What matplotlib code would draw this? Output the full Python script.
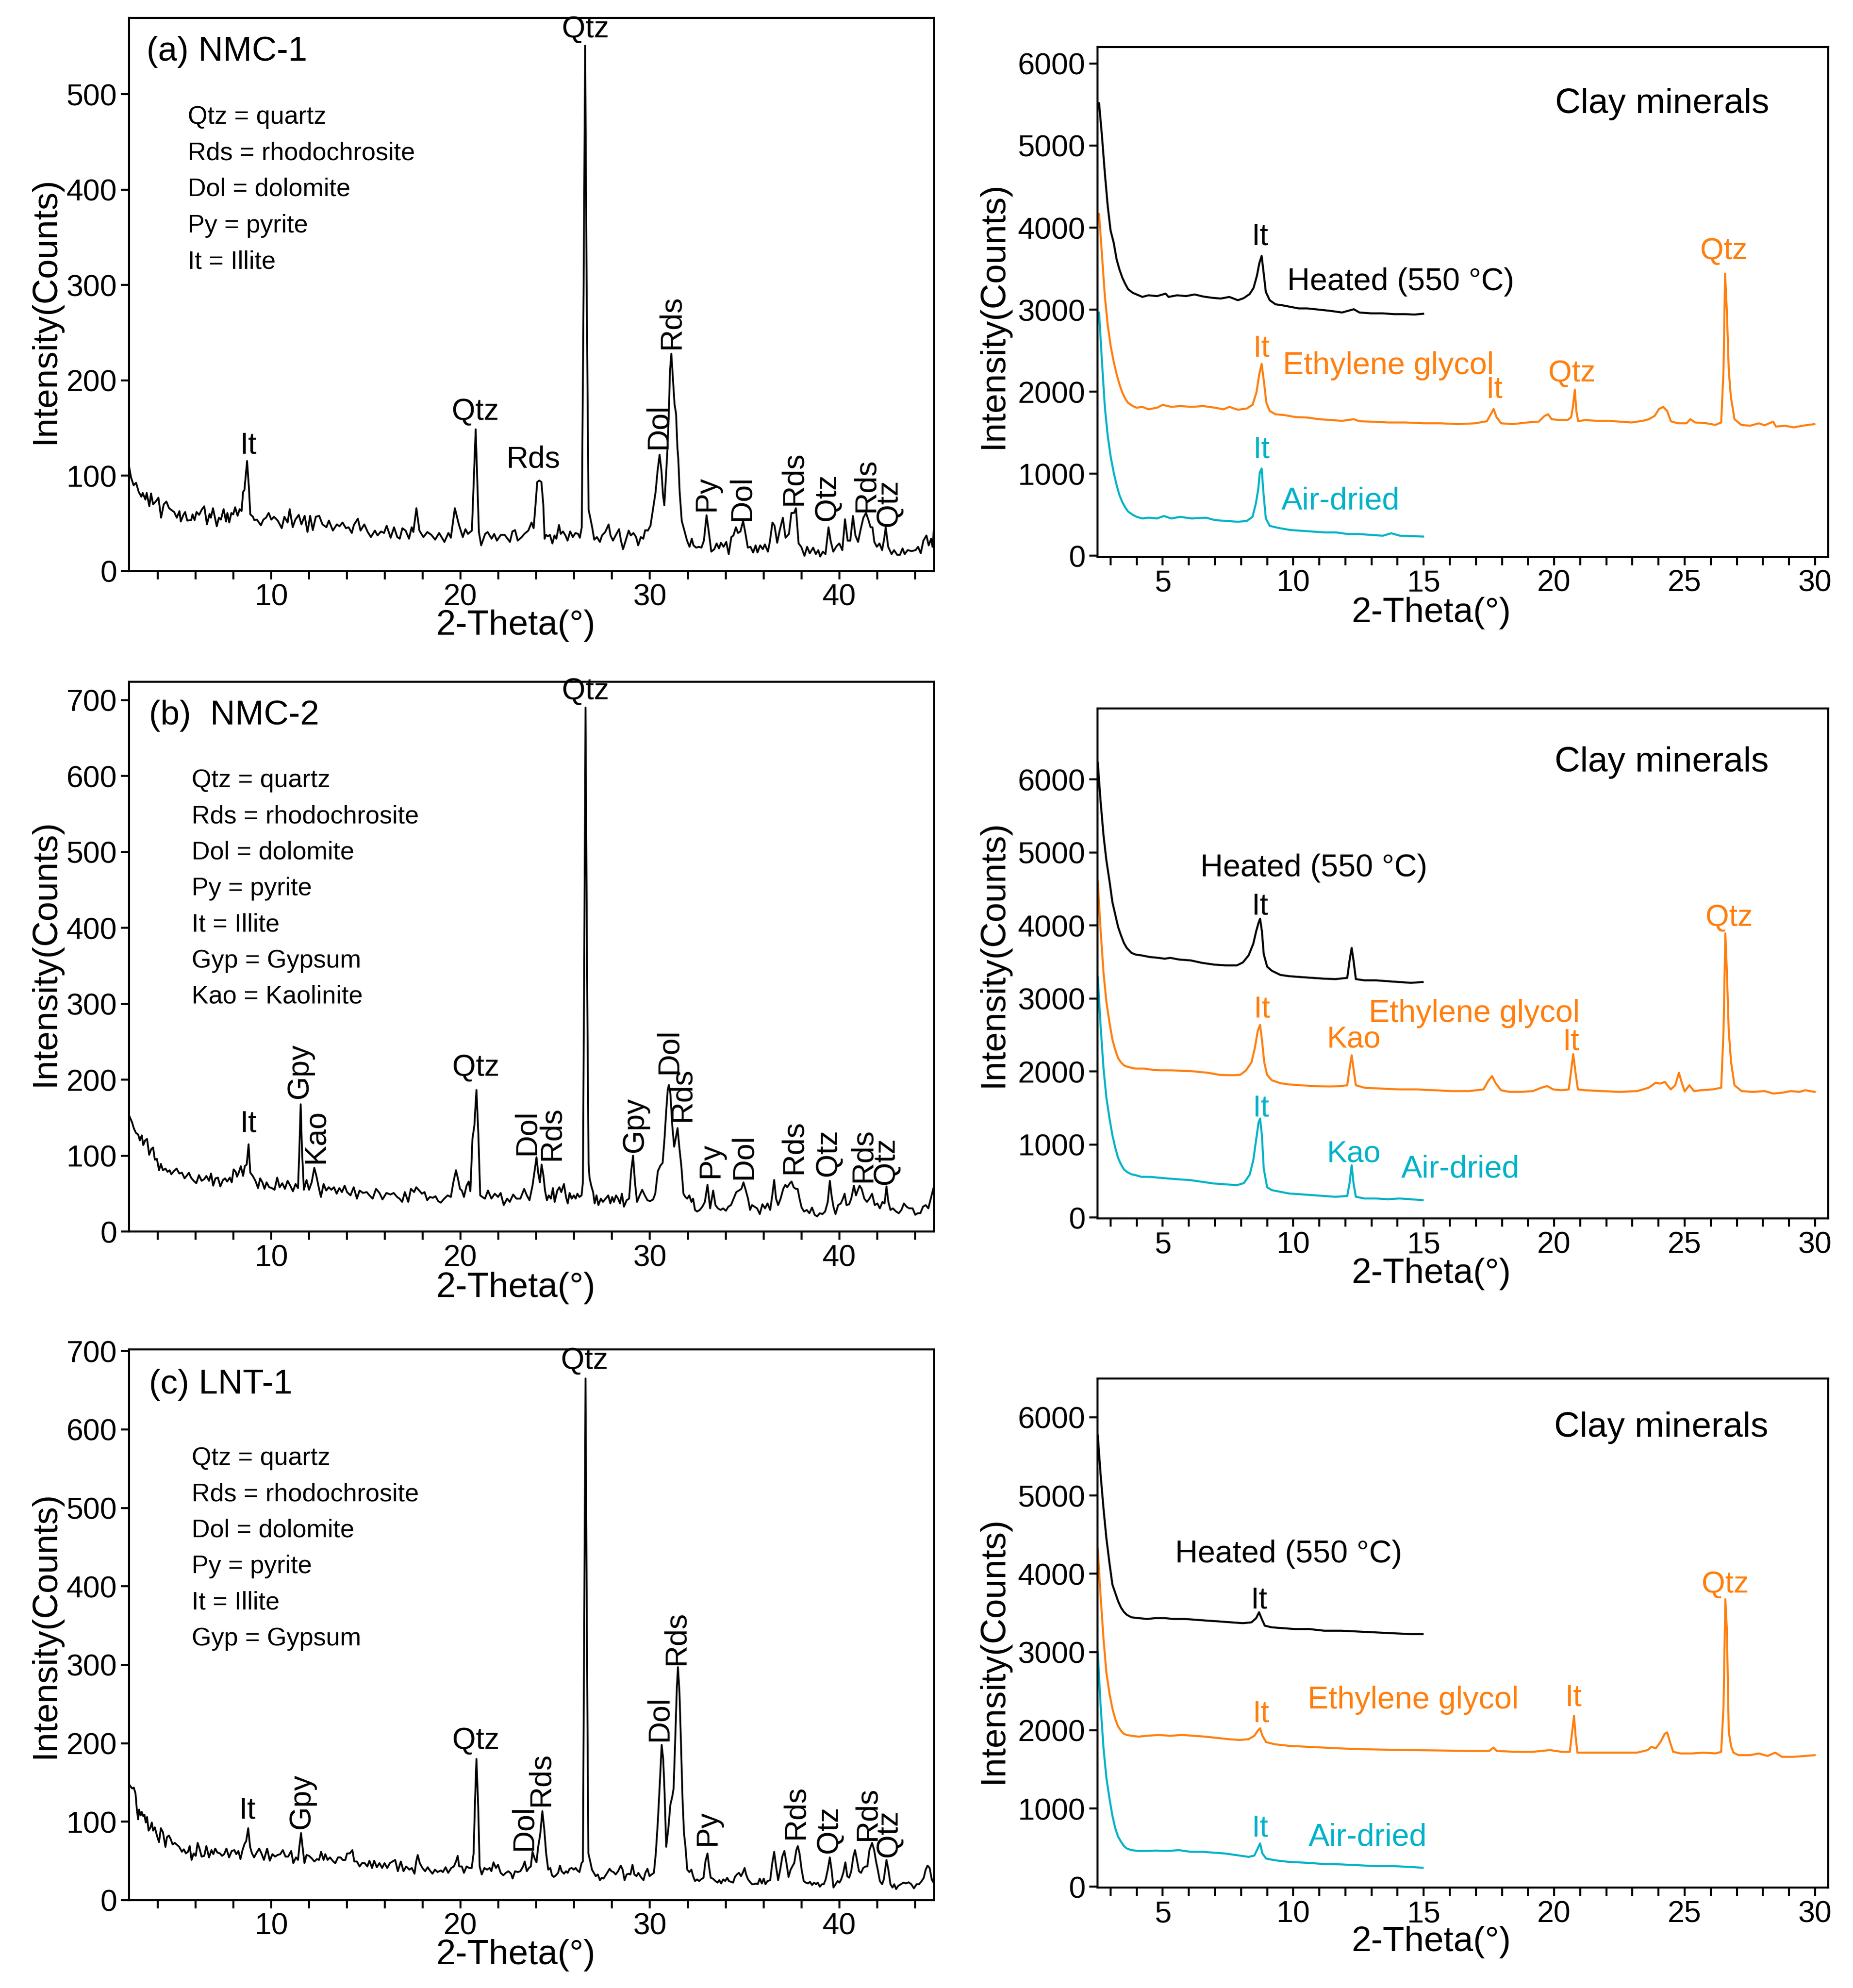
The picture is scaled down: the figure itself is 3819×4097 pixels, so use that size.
import numpy as np
import matplotlib
matplotlib.use("Agg")
import matplotlib.pyplot as plt
from matplotlib.ticker import MultipleLocator

# ---- bulk XRD patterns (2-theta, counts) ----
nmc1 = np.array([
    [2.5, 110], [2.6, 98.5], [2.74, 90], [2.87, 92.6], [3.01, 83], [3.15, 78], [3.22, 82], [3.36, 75],
    [3.43, 82], [3.57, 68], [3.66, 81.5], [3.77, 70], [3.91, 73], [4.05, 77], [4.19, 56], [4.33, 70],
    [4.47, 73], [4.61, 66], [4.74, 64], [4.88, 62], [5.02, 56], [5.16, 63], [5.23, 52], [5.37, 59],
    [5.46, 62], [5.57, 53], [5.78, 53.5], [5.85, 59.5], [5.96, 53.5], [6.06, 62], [6.20, 59], [6.34, 64.5],
    [6.47, 68], [6.61, 49], [6.75, 60], [6.82, 56], [6.93, 66], [7.13, 47], [7.24, 56], [7.35, 54],
    [7.49, 65], [7.62, 52], [7.69, 61], [7.79, 51], [7.90, 61], [8.00, 59.5], [8.10, 67], [8.23, 58],
    [8.34, 65], [8.44, 63], [8.52, 83], [8.59, 85], [8.73, 115.5], [8.83, 86.6], [8.90, 59.5], [9.04, 57],
    [9.11, 53.5], [9.25, 54], [9.46, 48], [9.59, 54], [9.73, 56], [9.87, 61], [10.01, 54], [10.15, 57],
    [10.35, 53], [10.56, 45], [10.70, 57], [10.87, 51], [10.98, 65], [11.14, 46], [11.28, 54], [11.46, 59],
    [11.60, 49], [11.77, 58], [11.92, 41], [12.06, 58], [12.20, 43], [12.36, 57], [12.54, 58], [12.71, 49],
    [12.92, 46], [13.05, 53], [13.26, 42.5], [13.47, 49], [13.61, 47], [13.77, 51], [13.95, 45], [14.09, 46],
    [14.26, 40], [14.37, 48.4], [14.58, 55], [14.72, 42.5], [14.92, 49], [15.10, 41], [15.27, 35.7],
    [15.48, 42.5], [15.62, 37.4], [15.80, 41.6], [15.96, 40], [16.10, 47.6], [16.31, 35], [16.49, 46],
    [16.66, 35.7], [16.79, 34], [16.93, 45], [17.10, 42.5], [17.28, 34], [17.42, 46], [17.51, 41],
    [17.67, 66], [17.83, 42.5], [18.04, 35.7], [18.25, 41], [18.46, 38], [18.66, 33], [18.87, 40],
    [19.15, 30.6], [19.36, 40], [19.49, 35], [19.70, 66], [19.91, 49], [20.12, 35.7], [20.26, 44],
    [20.39, 39], [20.60, 42.5], [20.80, 148.7], [20.97, 41], [21.09, 27], [21.30, 39], [21.43, 41],
    [21.64, 34], [21.78, 39], [21.92, 32], [22.13, 38], [22.33, 38], [22.61, 30.6], [22.74, 41.6],
    [22.88, 43], [23.02, 32], [23.23, 35.7], [23.37, 39], [23.58, 42.5], [23.75, 51], [23.86, 45],
    [23.96, 69.7], [24.05, 93.4], [24.16, 95], [24.27, 93.4], [24.37, 69.7], [24.44, 34], [24.51, 38],
    [24.61, 36.5], [24.72, 38], [24.85, 29], [24.96, 37.4], [25.06, 34], [25.20, 48.4], [25.29, 39],
    [25.41, 41.6], [25.54, 37.4], [25.65, 32], [25.79, 41.6], [25.93, 35.7], [26.07, 40], [26.21, 39],
    [26.30, 35], [26.40, 46], [26.50, 300], [26.58, 551], [26.66, 300], [26.76, 64.5], [26.85, 56],
    [26.95, 46], [27.06, 33], [27.20, 35.7], [27.36, 30.6], [27.47, 37.4], [27.64, 41], [27.82, 49],
    [27.92, 37.4], [28.05, 32], [28.19, 37.4], [28.37, 44], [28.47, 32], [28.58, 23], [28.72, 32],
    [28.88, 42.5], [28.99, 37.4], [29.13, 40], [29.27, 35.7], [29.38, 27], [29.52, 35.7], [29.65, 34],
    [29.75, 43], [29.89, 42.5], [30.03, 47.6], [30.16, 64.5], [30.30, 83], [30.40, 104.5], [30.51, 122],
    [30.61, 105], [30.69, 80], [30.76, 69], [30.85, 100], [30.92, 125.7], [30.99, 160], [31.06, 210],
    [31.13, 228], [31.22, 200], [31.30, 175], [31.38, 165], [31.45, 130], [31.50, 117], [31.57, 83],
    [31.68, 52.7], [31.82, 42.5], [31.96, 32], [32.09, 25.5], [32.21, 34], [32.30, 27], [32.44, 24.6],
    [32.58, 25.5], [32.72, 24.6], [32.85, 32], [32.99, 58.6], [33.10, 42.5], [33.24, 20.4], [33.40, 23],
    [33.52, 29], [33.65, 23.8], [33.75, 29.7], [33.89, 25.5], [34.03, 30.6], [34.16, 17.8], [34.30, 35.7],
    [34.41, 37.4], [34.54, 46], [34.65, 40], [34.78, 41.6], [34.92, 52.7], [35.03, 41], [35.17, 24.6],
    [35.31, 25.5], [35.45, 19.5], [35.58, 27], [35.68, 19.5], [35.82, 27], [35.96, 23], [36.07, 28],
    [36.23, 20.4], [36.33, 30.6], [36.47, 51], [36.58, 47.6], [36.72, 29.7], [36.85, 42.5], [37.02, 56],
    [37.16, 35], [37.34, 39], [37.47, 61], [37.61, 61], [37.71, 66], [37.85, 29], [37.99, 25.5],
    [38.16, 16], [38.30, 25.5], [38.44, 18.7], [38.62, 24.6], [38.76, 17.8], [38.89, 22], [38.99, 15.3],
    [39.13, 20.4], [39.27, 17.8], [39.43, 46], [39.54, 32], [39.68, 20.4], [39.86, 26.3], [40.0, 29],
    [40.16, 22], [40.30, 54.4], [40.44, 32], [40.58, 32], [40.72, 57.8], [40.85, 37.4], [40.99, 30.6],
    [41.13, 44], [41.27, 56], [41.41, 61], [41.54, 53.5], [41.65, 46], [41.75, 46], [41.85, 30.6],
    [41.98, 25.5], [42.12, 29], [42.26, 22], [42.37, 34], [42.45, 46], [42.58, 25.5], [42.76, 17.8],
    [42.89, 22], [43.06, 17], [43.20, 17], [43.34, 23.8], [43.45, 17.8], [43.61, 22], [43.82, 21],
    [44.03, 22], [44.16, 25.5], [44.30, 18.7], [44.44, 32], [44.60, 37.4], [44.72, 27], [44.85, 34],
    [44.92, 25.5], [45.0, 45],
])

nmc2 = np.array([
    [2.5, 153], [2.66, 143.7], [2.75, 136], [2.86, 130], [2.98, 127.7], [3.07, 120], [3.17, 126.6],
    [3.25, 113.8], [3.35, 120], [3.45, 122], [3.56, 101], [3.67, 108.5], [3.77, 110.6], [3.86, 94.6],
    [3.97, 95.7], [4.08, 80.7], [4.18, 89], [4.29, 80.7], [4.42, 82.9], [4.53, 78.6], [4.64, 80.7],
    [4.73, 75.4], [4.87, 79.6], [5.01, 82.9], [5.15, 76.4], [5.29, 77.5], [5.43, 70], [5.57, 74.3],
    [5.66, 77.5], [5.77, 71], [5.91, 66.8], [6.05, 63.6], [6.19, 74.3], [6.33, 66.8], [6.47, 69],
    [6.58, 73.2], [6.72, 66.8], [6.83, 76.4], [6.94, 60.4], [7.06, 70], [7.19, 71], [7.32, 59.4],
    [7.46, 67.9], [7.57, 70], [7.68, 65.8], [7.82, 71], [7.92, 64.7], [8.02, 81.8], [8.13, 78.6],
    [8.20, 72.2], [8.29, 77.5], [8.40, 86], [8.52, 73.2], [8.61, 86], [8.71, 88.2], [8.81, 114.9],
    [8.90, 77.5], [9.03, 73.2], [9.17, 66.8], [9.31, 57.2], [9.42, 70], [9.54, 64.7], [9.65, 56.2],
    [9.76, 64.7], [9.90, 58.3], [10.04, 57.2], [10.18, 55], [10.32, 71], [10.45, 58.3], [10.59, 63.6],
    [10.73, 56.2], [10.87, 66.8], [11.01, 60.4], [11.15, 53], [11.29, 62.6], [11.42, 57.2], [11.49, 107],
    [11.56, 167.6], [11.63, 107], [11.73, 55], [11.87, 67.9], [12.0, 55], [12.14, 64.7], [12.28, 83.9],
    [12.39, 73.2], [12.53, 56.2], [12.63, 45.5], [12.77, 62.6], [12.91, 54], [13.04, 58.3], [13.18, 55],
    [13.32, 58.3], [13.46, 49.8], [13.60, 57.2], [13.74, 51.9], [13.88, 60.4], [14.01, 51.9],
    [14.19, 47.6], [14.36, 58.3], [14.53, 43.3], [14.67, 54], [14.85, 50.8], [15.05, 51.9], [15.19, 47.6],
    [15.36, 43.3], [15.54, 56.2], [15.72, 50.8], [15.88, 42.3], [16.09, 50.8], [16.30, 48.7],
    [16.47, 50.8], [16.65, 45.5], [16.78, 43.3], [16.92, 39], [17.06, 51.9], [17.24, 39], [17.38, 56.2],
    [17.55, 51.9], [17.66, 58.3], [17.82, 54], [17.96, 49.8], [18.10, 51.9], [18.24, 41.2], [18.38, 45.5],
    [18.54, 44.4], [18.68, 46.5], [18.82, 40], [18.96, 38], [19.14, 43.3], [19.32, 47.6], [19.49, 45.5],
    [19.62, 64.7], [19.76, 80.7], [19.87, 69], [19.97, 56.2], [20.07, 54], [20.18, 45.5], [20.32, 60.4],
    [20.43, 65.8], [20.52, 53], [20.63, 122.4], [20.73, 139.4], [20.84, 186.4], [20.94, 128.8],
    [21.04, 47.6], [21.15, 45.5], [21.29, 43.3], [21.45, 54], [21.63, 43.3], [21.81, 49.8], [21.98, 45.5],
    [22.12, 50.8], [22.28, 34.8], [22.46, 43.3], [22.60, 39], [22.78, 48.7], [22.95, 43.3], [23.16, 43.3],
    [23.36, 56.2], [23.50, 47.6], [23.64, 41.2], [23.80, 60.4], [23.91, 79.6], [24.01, 97.8], [24.10, 77.5],
    [24.19, 64.7], [24.28, 88.2], [24.38, 73.2], [24.46, 54], [24.56, 41.2], [24.66, 47.6], [24.77, 43.3],
    [24.88, 57.2], [24.97, 39], [25.11, 54], [25.22, 58.3], [25.32, 51.9], [25.46, 62.6], [25.57, 45.5],
    [25.66, 37], [25.76, 50.8], [25.87, 43.3], [25.98, 47.6], [26.08, 43.3], [26.17, 49.8], [26.28, 45.5],
    [26.39, 47.6], [26.46, 64.7], [26.53, 350], [26.60, 690], [26.68, 350], [26.76, 90], [26.81, 71],
    [26.90, 60.4], [27.0, 51.9], [27.08, 37], [27.18, 47.6], [27.28, 34.8], [27.41, 43.3], [27.52, 39],
    [27.66, 43.3], [27.80, 47.6], [27.91, 37], [28.01, 45.5], [28.10, 39], [28.21, 47.6], [28.32, 43.3],
    [28.42, 37], [28.52, 49.8], [28.63, 32.7], [28.77, 41.2], [28.90, 43.3], [29.01, 79.6], [29.11, 100],
    [29.21, 64.7], [29.32, 39], [29.46, 47.6], [29.59, 55], [29.73, 47.6], [29.87, 41.2], [30.01, 40],
    [30.17, 42.3], [30.28, 49.8], [30.42, 79.6], [30.56, 87], [30.67, 90.3], [30.77, 122.4], [30.86, 158.6],
    [30.94, 186.4], [31.0, 193], [31.08, 182], [31.18, 139.4], [31.28, 111.7], [31.36, 122.4],
    [31.46, 136.2], [31.55, 111.7], [31.66, 86], [31.77, 49.8], [31.87, 45.5], [31.97, 43.3], [32.08, 47.6],
    [32.19, 39], [32.28, 43.3], [32.38, 28.4], [32.49, 26.3], [32.63, 28.4], [32.77, 32.7], [32.90, 39],
    [33.04, 61.5], [33.18, 30.5], [33.34, 54], [33.46, 34.8], [33.59, 30.5], [33.73, 28.4], [33.87, 30.5],
    [34.01, 27.3], [34.14, 32.7], [34.28, 34.8], [34.42, 43.3], [34.56, 51.9], [34.70, 54], [34.83, 56.2],
    [34.94, 64.7], [35.04, 56.2], [35.18, 43.3], [35.29, 28.4], [35.39, 34.8], [35.52, 32.7], [35.66, 30.5],
    [35.80, 23], [35.94, 35.9], [36.08, 30.5], [36.21, 37], [36.35, 28.4], [36.46, 47.6], [36.56, 68],
    [36.66, 43.3], [36.77, 34.8], [36.90, 43.3], [37.04, 56.2], [37.15, 61.5], [37.25, 58.3], [37.39, 63.6],
    [37.48, 65.8], [37.59, 58.3], [37.70, 56.2], [37.80, 56.2], [37.90, 43.3], [38.01, 31.6], [38.14, 26.3],
    [38.28, 28.4], [38.42, 24.1], [38.56, 31.6], [38.70, 22], [38.83, 19.9], [38.97, 24.1], [39.11, 23],
    [39.25, 26.3], [39.39, 39], [39.50, 66.8], [39.59, 47.6], [39.69, 32.7], [39.80, 23], [39.94, 34.8],
    [40.08, 37], [40.19, 43.3], [40.28, 49.8], [40.38, 34.8], [40.52, 35.9], [40.63, 43.3], [40.77, 60.4],
    [40.88, 47.6], [40.97, 54], [41.07, 60.4], [41.18, 56.2], [41.32, 43.3], [41.46, 39], [41.59, 43.3],
    [41.73, 49.8], [41.87, 34.8], [42.01, 37], [42.14, 30.5], [42.28, 39], [42.39, 37], [42.49, 59.4],
    [42.59, 39], [42.70, 28.4], [42.83, 30.5], [43.0, 26.3], [43.14, 24.1], [43.28, 28.4], [43.41, 37],
    [43.55, 32.7], [43.69, 30.5], [43.87, 30.5], [44.01, 22], [44.14, 24.1], [44.28, 24.1], [44.42, 32.7],
    [44.56, 34.8], [44.70, 30.5], [44.83, 43.3], [44.97, 57.2], [45.0, 47.6],
])

lnt1 = np.array([
    [2.5, 147.6], [2.66, 142.4], [2.75, 143.5], [2.84, 136], [2.91, 115.5], [2.98, 103], [3.03, 115.5],
    [3.11, 108], [3.17, 112.4], [3.25, 107], [3.31, 109], [3.38, 99], [3.45, 106], [3.53, 88.6],
    [3.63, 92.8], [3.70, 99], [3.77, 88.6], [3.86, 92.8], [3.97, 82.4], [4.08, 74], [4.18, 91.7],
    [4.29, 86.5], [4.42, 67.9], [4.50, 80.3], [4.60, 82.4], [4.69, 78.3], [4.80, 71], [4.91, 73],
    [5.01, 71], [5.15, 67.9], [5.29, 61.7], [5.39, 64.8], [5.50, 59.6], [5.61, 61.7], [5.70, 69],
    [5.80, 51.3], [5.91, 59.6], [6.02, 56.5], [6.12, 73], [6.22, 65.8], [6.33, 55.5], [6.47, 56.5],
    [6.58, 69], [6.72, 54.5], [6.85, 63.8], [6.95, 58.6], [7.05, 65.8], [7.16, 60.7], [7.30, 59.6],
    [7.41, 56.5], [7.52, 58.6], [7.64, 65.8], [7.78, 54.5], [7.92, 62.7], [8.06, 63.8], [8.16, 58.6],
    [8.27, 62.7], [8.38, 52.4], [8.49, 63.8], [8.60, 72], [8.68, 75], [8.79, 91.7], [8.89, 67.9],
    [8.99, 59.6], [9.10, 54.5], [9.24, 60.7], [9.37, 65.8], [9.49, 59.6], [9.62, 51.3], [9.79, 65.8],
    [9.93, 50.3], [10.07, 58.6], [10.21, 55.5], [10.34, 57.6], [10.48, 58.6], [10.62, 63.8], [10.76, 55.5],
    [10.90, 55.5], [11.06, 62.7], [11.17, 47.2], [11.31, 54.5], [11.42, 51.3], [11.49, 67.9], [11.58, 85.5],
    [11.66, 67.9], [11.76, 47.2], [11.87, 57.6], [12.0, 56.5], [12.14, 53.4], [12.28, 49.3], [12.42, 52.4],
    [12.53, 51.3], [12.64, 61.7], [12.77, 51.3], [12.86, 58.6], [12.98, 51.3], [13.11, 54.5], [13.28, 49.3],
    [13.39, 47.2], [13.53, 54.5], [13.67, 54.5], [13.78, 51.3], [13.92, 51.3], [14.01, 59.6], [14.15, 59.6],
    [14.29, 63.8], [14.39, 49.3], [14.53, 49.3], [14.67, 42.9], [14.80, 47.2], [14.94, 47.2], [15.08, 42.9],
    [15.19, 50.3], [15.33, 41], [15.44, 50.3], [15.58, 42], [15.72, 47.2], [15.86, 41], [15.99, 47.2],
    [16.13, 41], [16.27, 47.2], [16.41, 49.3], [16.55, 51.3], [16.69, 36.9], [16.85, 49.3], [16.99, 36.9],
    [17.13, 42.9], [17.30, 38.9], [17.43, 41], [17.57, 33.7], [17.66, 49.3], [17.74, 57.6], [17.85, 47.2],
    [17.99, 41], [18.13, 36.9], [18.27, 42], [18.38, 37.9], [18.52, 33.7], [18.65, 38.9], [18.79, 35.8],
    [18.96, 37.9], [19.07, 35.8], [19.21, 42], [19.35, 34.8], [19.51, 41], [19.65, 43], [19.76, 49.3],
    [19.85, 56.5], [19.93, 43], [20.07, 43], [20.18, 34.8], [20.32, 43], [20.46, 41], [20.59, 41],
    [20.69, 59.6], [20.76, 121.7], [20.84, 180], [20.93, 121.7], [21.01, 43], [21.12, 32.7], [21.26, 41],
    [21.40, 38.9], [21.54, 41], [21.63, 36.9], [21.74, 48.2], [21.87, 41], [21.98, 45.1], [22.12, 34.8],
    [22.26, 31.7], [22.39, 34.8], [22.53, 36.9], [22.67, 33.7], [22.75, 27.5], [22.88, 36.9], [23.02, 35.8],
    [23.16, 36.9], [23.30, 42.9], [23.39, 49.3], [23.50, 36.9], [23.61, 41], [23.71, 42.9], [23.80, 61.7],
    [23.91, 53.4], [24.01, 48.2], [24.10, 67.9], [24.21, 84.5], [24.32, 113.5], [24.42, 90.7], [24.52, 59.6],
    [24.63, 38.9], [24.74, 41], [24.83, 31.7], [24.93, 29.6], [25.04, 31.7], [25.15, 34.8], [25.25, 44.1],
    [25.34, 36.9], [25.46, 33.7], [25.57, 36.9], [25.66, 34.8], [25.76, 40], [25.87, 41], [25.98, 38.9],
    [26.08, 41], [26.17, 37.9], [26.28, 35.8], [26.39, 47.2], [26.46, 49.3], [26.53, 350], [26.60, 665],
    [26.67, 350], [26.75, 59.6], [26.83, 51.3], [26.94, 38.9], [27.04, 34.8], [27.14, 30.6], [27.25, 32.7],
    [27.36, 25.5], [27.46, 28.6], [27.55, 27.5], [27.66, 31.7], [27.77, 35.8], [27.87, 40], [27.97, 36.9],
    [28.08, 35.8], [28.19, 32.7], [28.32, 36.9], [28.46, 44.1], [28.56, 38.9], [28.66, 25.5], [28.77, 32.7],
    [28.88, 33.7], [28.97, 32.7], [29.08, 45.1], [29.18, 32.7], [29.29, 30.6], [29.39, 34.8], [29.52, 29.6],
    [29.66, 25.5], [29.76, 34.8], [29.87, 40], [29.98, 30.6], [30.09, 32.7], [30.21, 34.8], [30.31, 59.6],
    [30.42, 101], [30.53, 152.8], [30.62, 198], [30.70, 180], [30.77, 140], [30.86, 68], [30.97, 90.7],
    [31.08, 121.7], [31.18, 132], [31.25, 142.4], [31.33, 200], [31.42, 270], [31.48, 297], [31.56, 265],
    [31.64, 200], [31.72, 130], [31.80, 85], [31.87, 70], [31.97, 38.9], [32.08, 35.8], [32.19, 38.9],
    [32.28, 30.6], [32.38, 24.4], [32.49, 26.5], [32.60, 24.4], [32.70, 26.5], [32.83, 28.6], [32.93, 49.3],
    [33.04, 59.6], [33.12, 43], [33.21, 28.6], [33.32, 27.5], [33.46, 24.4], [33.57, 22.4], [33.66, 25.5],
    [33.76, 21.3], [33.87, 26.5], [33.98, 24.4], [34.08, 28.6], [34.17, 24.4], [34.28, 23.4], [34.39, 22.4],
    [34.49, 29.6], [34.59, 32.7], [34.70, 34.8], [34.81, 30.6], [34.90, 34.8], [35.0, 41], [35.08, 32.7],
    [35.18, 26.5], [35.28, 23.4], [35.39, 20.3], [35.50, 20.3], [35.59, 21.3], [35.69, 20.3], [35.80, 27.5],
    [35.91, 21.3], [36.01, 27.5], [36.10, 20.3], [36.21, 24.4], [36.35, 25.5], [36.46, 47.2], [36.56, 61.7],
    [36.66, 43], [36.77, 25.5], [36.88, 38.9], [36.99, 55.5], [37.10, 62.7], [37.21, 47.2], [37.32, 29.6],
    [37.43, 38.9], [37.52, 43], [37.62, 47.2], [37.73, 63.8], [37.81, 68.9], [37.90, 59.6], [38.01, 38.9],
    [38.12, 24.4], [38.23, 22.4], [38.35, 21.3], [38.45, 23.4], [38.56, 19.3], [38.67, 22.4], [38.77, 20.3],
    [38.86, 22.4], [38.97, 17.2], [39.08, 20.3], [39.18, 20.3], [39.28, 26.5], [39.39, 38.9], [39.50, 54.5],
    [39.59, 38.9], [39.69, 16.1], [39.80, 20.3], [39.91, 24.4], [40.01, 22.4], [40.10, 26.5], [40.21, 34.8],
    [40.32, 48.2], [40.42, 30.6], [40.52, 28.6], [40.63, 36.9], [40.74, 55.5], [40.83, 63.8], [40.93, 51.3],
    [41.04, 36.9], [41.15, 34.8], [41.26, 41], [41.39, 43], [41.48, 43], [41.59, 63.8], [41.73, 73],
    [41.84, 63.8], [41.94, 49.3], [42.03, 38.9], [42.14, 24.4], [42.26, 20.3], [42.35, 26.5], [42.49, 51.3],
    [42.59, 38.9], [42.70, 20.3], [42.81, 16.1], [42.90, 20.3], [43.0, 14.1], [43.11, 18.2], [43.25, 20.3],
    [43.39, 22.4], [43.52, 21.3], [43.66, 22.8], [43.80, 20.3], [43.94, 15.1], [44.08, 20.3], [44.21, 20.3],
    [44.35, 24.4], [44.46, 28.6], [44.56, 38.9], [44.66, 44.1], [44.77, 41], [44.88, 26.5], [44.97, 22.4],
    [45.0, 30.6],
])

# ---- clay fraction patterns: heated, ethylene glycol, air-dried ----
nmc1_heated = np.array([
    [2.56, 5515], [2.67, 5115], [2.78, 4665], [2.89, 4265], [3.0, 3965], [3.12, 3815], [3.23, 3615],
    [3.34, 3490], [3.45, 3390], [3.56, 3315], [3.67, 3250], [3.85, 3205], [4.0, 3185], [4.22, 3155],
    [4.45, 3175], [4.78, 3165], [5.11, 3195], [5.22, 3155], [5.55, 3175], [5.89, 3165], [6.22, 3185],
    [6.55, 3160], [6.88, 3145], [7.22, 3135], [7.55, 3155], [7.88, 3115], [8.10, 3140], [8.33, 3190],
    [8.48, 3265], [8.61, 3415], [8.70, 3565], [8.79, 3655], [8.86, 3465], [8.95, 3215], [9.10, 3115],
    [9.32, 3065], [9.55, 3055], [9.88, 3035], [10.21, 3015], [10.54, 3015], [10.99, 3000], [11.43, 2985],
    [11.87, 2965], [12.32, 3005], [12.54, 2965], [12.98, 2955], [13.43, 2955], [13.87, 2945],
    [14.31, 2945], [14.65, 2940], [14.98, 2950],
])
nmc1_glycol = np.array([
    [2.56, 4165], [2.67, 3665], [2.78, 3165], [2.89, 2815], [3.0, 2565], [3.12, 2365], [3.23, 2215],
    [3.34, 2090], [3.45, 1990], [3.56, 1915], [3.67, 1865], [3.85, 1825], [4.0, 1805], [4.22, 1815],
    [4.45, 1785], [4.78, 1805], [5.0, 1840], [5.33, 1815], [5.67, 1825], [6.11, 1815], [6.55, 1825],
    [7.0, 1805], [7.33, 1785], [7.55, 1815], [7.88, 1780], [8.22, 1795], [8.44, 1840], [8.59, 1990],
    [8.70, 2215], [8.79, 2340], [8.88, 2115], [8.97, 1865], [9.10, 1765], [9.32, 1725], [9.66, 1715],
    [10.10, 1690], [10.54, 1685], [10.99, 1665], [11.43, 1655], [11.87, 1645], [12.32, 1665],
    [12.54, 1640], [12.98, 1635], [13.65, 1625], [14.31, 1625], [14.98, 1615], [15.64, 1615],
    [16.31, 1605], [16.97, 1615], [17.42, 1640], [17.57, 1725], [17.68, 1790], [17.79, 1690],
    [17.97, 1615], [18.41, 1605], [18.97, 1625], [19.41, 1635], [19.63, 1705], [19.77, 1725],
    [19.90, 1665], [20.19, 1655], [20.52, 1655], [20.65, 1690], [20.72, 1815], [20.79, 2025],
    [20.85, 1765], [20.92, 1640], [21.19, 1655], [21.63, 1645], [22.07, 1645], [22.52, 1635],
    [22.96, 1625], [23.40, 1645], [23.63, 1665], [23.85, 1705], [24.02, 1790], [24.18, 1815],
    [24.33, 1765], [24.47, 1640], [24.73, 1615], [25.07, 1615], [25.22, 1665], [25.40, 1625],
    [25.84, 1615], [26.18, 1595], [26.40, 1625], [26.49, 2265], [26.55, 3440], [26.62, 2965],
    [26.69, 2265], [26.77, 1940], [26.91, 1665], [27.17, 1595], [27.51, 1585], [27.84, 1615],
    [28.06, 1590], [28.39, 1635], [28.50, 1575], [28.84, 1585], [29.18, 1565], [29.51, 1585],
    [29.97, 1605],
])
nmc1_air = np.array([
    [2.56, 2965], [2.67, 2365], [2.78, 1815], [2.89, 1465], [3.0, 1215], [3.12, 1015], [3.23, 865],
    [3.34, 740], [3.45, 655], [3.56, 590], [3.67, 540], [3.85, 500], [4.0, 475], [4.22, 455],
    [4.45, 465], [4.78, 455], [5.04, 485], [5.33, 455], [5.67, 475], [6.11, 455], [6.66, 465],
    [7.0, 435], [7.44, 425], [7.88, 415], [8.22, 425], [8.44, 475], [8.57, 640], [8.66, 815],
    [8.72, 1015], [8.79, 1065], [8.86, 765], [8.95, 455], [9.10, 365], [9.43, 340], [9.88, 315],
    [10.32, 305], [10.76, 295], [11.21, 285], [11.65, 285], [12.10, 265], [12.54, 265], [12.98, 255],
    [13.43, 245], [13.76, 275], [14.09, 245], [14.53, 240], [14.98, 235],
])

nmc2_heated = np.array([
    [2.51, 6228], [2.62, 5687], [2.73, 5231], [2.84, 4889], [2.96, 4604], [3.07, 4319], [3.18, 4148],
    [3.29, 3977], [3.40, 3863], [3.51, 3761], [3.62, 3692], [3.80, 3624], [3.96, 3601], [4.18, 3590],
    [4.51, 3567], [4.84, 3556], [5.07, 3544], [5.29, 3556], [5.62, 3533], [6.07, 3521], [6.51, 3487],
    [6.96, 3464], [7.40, 3453], [7.84, 3453], [8.07, 3493], [8.29, 3590], [8.47, 3749], [8.58, 3920],
    [8.67, 4034], [8.73, 4091], [8.80, 3920], [8.87, 3607], [9.0, 3436], [9.18, 3379], [9.51, 3322],
    [9.84, 3305], [10.29, 3293], [10.73, 3282], [11.18, 3271], [11.62, 3265], [12.07, 3282],
    [12.16, 3521], [12.24, 3692], [12.31, 3521], [12.40, 3265], [12.73, 3248], [13.18, 3248],
    [13.62, 3236], [14.07, 3225], [14.51, 3214], [14.96, 3225],
])
nmc2_glycol = np.array([
    [2.51, 4604], [2.62, 3920], [2.73, 3350], [2.84, 2952], [2.96, 2667], [3.07, 2439], [3.18, 2296],
    [3.29, 2182], [3.40, 2125], [3.51, 2085], [3.62, 2068], [3.80, 2051], [3.96, 2040], [4.29, 2040],
    [4.62, 2023], [4.96, 2017], [5.29, 2017], [5.62, 2011], [6.07, 2006], [6.40, 1994], [6.73, 1983],
    [7.18, 1954], [7.62, 1949], [7.96, 1954], [8.18, 2011], [8.40, 2125], [8.53, 2325], [8.64, 2553],
    [8.73, 2638], [8.80, 2439], [8.89, 2125], [9.0, 1954], [9.18, 1880], [9.51, 1840], [9.84, 1823],
    [10.29, 1812], [10.73, 1801], [11.40, 1795], [11.84, 1801], [12.07, 1812], [12.16, 2040],
    [12.24, 2222], [12.31, 2040], [12.40, 1812], [12.73, 1778], [13.40, 1766], [14.07, 1755],
    [14.73, 1755], [15.40, 1744], [16.07, 1732], [16.73, 1732], [17.29, 1755], [17.47, 1869],
    [17.62, 1937], [17.76, 1840], [17.96, 1744], [18.29, 1721], [18.73, 1721], [19.18, 1732],
    [19.51, 1778], [19.73, 1801], [19.96, 1755], [20.29, 1744], [20.56, 1755], [20.64, 1983],
    [20.73, 2239], [20.82, 1983], [20.91, 1755], [21.18, 1744], [21.84, 1732], [22.51, 1721],
    [23.18, 1732], [23.62, 1778], [23.89, 1846], [24.07, 1835], [24.24, 1858], [24.47, 1755],
    [24.64, 1812], [24.78, 1983], [24.87, 1869], [25.0, 1727], [25.18, 1812], [25.36, 1732],
    [25.62, 1744], [26.07, 1755], [26.40, 1778], [26.49, 2553], [26.56, 3892], [26.62, 3350],
    [26.69, 2553], [26.78, 2125], [26.91, 1812], [27.18, 1732], [27.62, 1721], [28.07, 1732],
    [28.40, 1698], [28.73, 1709], [29.07, 1732], [29.40, 1721], [29.62, 1744], [29.98, 1721],
])
nmc2_air = np.array([
    [2.51, 3293], [2.62, 2610], [2.73, 2040], [2.84, 1641], [2.96, 1356], [3.07, 1128], [3.18, 957],
    [3.29, 815], [3.40, 729], [3.51, 661], [3.62, 627], [3.80, 593], [3.96, 581], [4.18, 558],
    [4.51, 558], [4.84, 547], [5.18, 536], [5.62, 524], [6.07, 513], [6.51, 490], [6.96, 467],
    [7.40, 456], [7.84, 444], [8.11, 473], [8.33, 587], [8.47, 786], [8.58, 1071], [8.67, 1299],
    [8.73, 1356], [8.80, 1128], [8.87, 672], [9.0, 416], [9.18, 376], [9.51, 353], [9.84, 330],
    [10.29, 319], [10.73, 308], [11.18, 296], [11.62, 285], [12.07, 296], [12.16, 473], [12.24, 718],
    [12.31, 473], [12.40, 285], [12.73, 262], [13.18, 262], [13.62, 251], [14.07, 262], [14.51, 251],
    [14.96, 239],
])

lnt1_heated = np.array([
    [2.51, 5770], [2.62, 5259], [2.73, 4830], [2.84, 4453], [2.96, 4131], [3.07, 3862], [3.18, 3755],
    [3.29, 3648], [3.40, 3567], [3.51, 3513], [3.62, 3476], [3.80, 3443], [4.07, 3433], [4.40, 3422],
    [4.73, 3433], [5.07, 3433], [5.40, 3422], [5.84, 3422], [6.29, 3411], [6.73, 3400], [7.18, 3390],
    [7.62, 3379], [8.07, 3368], [8.40, 3379], [8.58, 3433], [8.69, 3508], [8.78, 3433], [8.91, 3336],
    [9.18, 3315], [9.62, 3304], [10.07, 3293], [10.62, 3293], [11.18, 3272], [11.84, 3272],
    [12.51, 3261], [13.18, 3250], [13.84, 3239], [14.51, 3229], [14.96, 3229],
])
lnt1_glycol = np.array([
    [2.51, 4319], [2.62, 3701], [2.73, 3164], [2.84, 2734], [2.96, 2466], [3.07, 2278], [3.18, 2143],
    [3.29, 2047], [3.40, 1993], [3.51, 1955], [3.62, 1939], [3.80, 1929], [4.07, 1918], [4.40, 1929],
    [4.84, 1939], [5.29, 1929], [5.73, 1939], [6.18, 1929], [6.62, 1918], [7.07, 1902], [7.51, 1886],
    [7.96, 1875], [8.29, 1886], [8.51, 1929], [8.64, 1993], [8.73, 2025], [8.82, 1929], [8.96, 1848],
    [9.29, 1821], [9.84, 1800], [10.51, 1789], [11.18, 1778], [11.84, 1767], [12.73, 1757],
    [13.62, 1751], [14.51, 1746], [15.62, 1741], [16.73, 1735], [17.51, 1735], [17.67, 1778],
    [17.80, 1735], [18.51, 1724], [19.18, 1724], [19.84, 1746], [20.29, 1724], [20.60, 1724],
    [20.69, 1982], [20.76, 2186], [20.82, 1929], [20.89, 1714], [21.18, 1714], [21.84, 1714],
    [22.51, 1714], [23.18, 1714], [23.58, 1746], [23.73, 1789], [23.89, 1767], [24.07, 1848],
    [24.24, 1955], [24.33, 1972], [24.44, 1848], [24.56, 1724], [24.84, 1703], [25.29, 1703],
    [25.73, 1714], [26.18, 1703], [26.40, 1724], [26.49, 2305], [26.56, 3674], [26.62, 3272],
    [26.69, 1982], [26.78, 1794], [26.87, 1714], [27.07, 1681], [27.51, 1681], [27.84, 1703],
    [28.18, 1671], [28.47, 1714], [28.73, 1660], [29.18, 1660], [29.62, 1671], [29.98, 1681],
])
lnt1_air = np.array([
    [2.51, 3003], [2.62, 2305], [2.73, 1767], [2.84, 1391], [2.96, 1123], [3.07, 908], [3.18, 747],
    [3.29, 639], [3.40, 575], [3.51, 521], [3.62, 489], [3.80, 467], [4.07, 457], [4.40, 457],
    [4.73, 462], [5.18, 457], [5.62, 467], [6.07, 446], [6.51, 446], [6.96, 435], [7.40, 424],
    [7.84, 403], [8.29, 381], [8.51, 398], [8.64, 489], [8.73, 553], [8.82, 424], [8.96, 360],
    [9.29, 338], [9.84, 317], [10.51, 306], [11.18, 290], [11.84, 285], [12.51, 274], [13.18, 263],
    [13.84, 263], [14.51, 252], [14.96, 242],
])

# ---- annotations ----
nmc1_legend = ["Qtz = quartz", "Rds = rhodochrosite", "Dol = dolomite", "Py = pyrite", "It = Illite"]
nmc2_legend = nmc1_legend + ["Gyp = Gypsum", "Kao = Kaolinite"]
lnt1_legend = nmc1_legend + ["Gyp = Gypsum"]

# (label, 2-theta, counts at label bottom, rotation)
nmc1_peaks = [("Qtz", 26.6, 553, 0), ("It", 8.8, 117, 0), ("Qtz", 20.78, 152, 0), ("Rds", 23.85, 102, 0),
              ("Dol", 30.45, 128, 90), ("Rds", 31.15, 233, 90), ("Py", 33.0, 63, 90), ("Dol", 34.85, 53, 90),
              ("Rds", 37.6, 69, 90), ("Qtz", 39.35, 53, 90), ("Rds", 41.4, 62, 90), ("Qtz", 42.6, 47, 90)]
nmc2_peaks = [("Qtz", 26.6, 693, 0), ("It", 8.8, 123, 0), ("Gpy", 11.5, 175, 90), ("Kao", 12.35, 90, 90),
              ("Qtz", 20.8, 197, 0), ("Dol", 23.5, 101, 90), ("Rds", 24.8, 94, 90), ("Gpy", 29.2, 104, 90),
              ("Dol", 31.0, 208, 90), ("Rds", 31.7, 145, 90), ("Py", 33.2, 71, 90), ("Dol", 34.95, 69, 90),
              ("Rds", 37.6, 76, 90), ("Qtz", 39.4, 73, 90), ("Rds", 41.25, 65, 90), ("Qtz", 42.45, 62, 90)]
lnt1_peaks = [("Qtz", 26.55, 669, 0), ("It", 8.75, 96, 0), ("Gpy", 11.6, 91, 90), ("Qtz", 20.8, 185, 0),
              ("Dol", 23.35, 64, 90), ("Rds", 24.25, 120, 90), ("Dol", 30.5, 203, 90), ("Rds", 31.4, 300, 90),
              ("Py", 33.05, 70, 90), ("Rds", 37.7, 78, 90), ("Qtz", 39.45, 60, 90), ("Rds", 41.5, 76, 90),
              ("Qtz", 42.6, 55, 90)]

# (label, 2-theta, counts at label centre, colour key, alignment)
nmc1_clay_text = [("It", 8.72, 3890, "h", "center"), ("Heated (550 °C)", 9.77, 3340, "h", "left"),
                  ("It", 8.77, 2525, "g", "center"), ("Ethylene glycol", 9.61, 2315, "g", "left"),
                  ("It", 17.7, 2025, "g", "center"), ("Qtz", 20.68, 2225, "g", "center"),
                  ("Qtz", 26.5, 3715, "g", "center"), ("It", 8.77, 1290, "a", "center"),
                  ("Air-dried", 9.55, 665, "a", "left")]
nmc2_clay_text = [("Heated (550 °C)", 6.44, 4786, "h", "left"), ("It", 8.73, 4262, "h", "center"),
                  ("Qtz", 26.7, 4103, "g", "center"), ("It", 8.8, 2849, "g", "center"),
                  ("Ethylene glycol", 12.89, 2792, "g", "left"), ("Kao", 12.33, 2439, "g", "center"),
                  ("It", 20.64, 2410, "g", "center"), ("It", 8.76, 1499, "a", "center"),
                  ("Kao", 12.33, 872, "a", "center"), ("Air-dried", 14.13, 661, "a", "left")]
lnt1_clay_text = [("Heated (550 °C)", 5.47, 4249, "h", "left"), ("It", 8.69, 3658, "h", "center"),
                  ("Qtz", 26.56, 3862, "g", "center"), ("Ethylene glycol", 10.56, 2385, "g", "left"),
                  ("It", 20.73, 2412, "g", "center"), ("It", 8.76, 2208, "g", "center"),
                  ("It", 8.73, 747, "a", "center"), ("Air-dried", 10.58, 629, "a", "left")]
clay_title_pos = [(20.03, 5505), (20.02, 6228), (20.0, 5866)]

plt.rcParams['font.family'] = ['Liberation Sans', 'DejaVu Sans']
colors = {"h": "black", "g": "#FF7F0E", "a": "#00B2C8"}

fig = plt.figure(figsize=(3819 / 300, 4097 / 300), dpi=300)


def style_axes(ax):
    for s in ax.spines.values():
        s.set_linewidth(1.0)
    ax.tick_params(which="both", direction="out", length=4, width=1.0, labelsize=15, pad=2,
                   top=False, right=False)


def bulk_panel(rect, data, ymax, title, title_xy, legend, legend_xy, peaks, ylab_y, xlab_y):
    ax = fig.add_axes(rect)
    ax.plot(data[:, 0], data[:, 1], color="black", lw=0.9)
    ax.set_xlim(2.5, 45)
    ax.set_ylim(0, ymax)
    ax.xaxis.set_major_locator(MultipleLocator(10))
    ax.xaxis.set_minor_locator(MultipleLocator(2))
    ax.yaxis.set_major_locator(MultipleLocator(100))
    style_axes(ax)
    ax.text(title_xy[0], title_xy[1], title, transform=ax.transAxes, fontsize=17, va="center", ha="left")
    for i, line in enumerate(legend):
        ax.text(legend_xy[0], legend_xy[1] - i * 0.0655, line, transform=ax.transAxes,
                fontsize=12.5, va="center", ha="left")
    for txt, x, y, rot in peaks:
        ax.text(x, y, txt, rotation=rot, ha="center", va="bottom", fontsize=15)
    ax.text(-0.104, ylab_y, "Intensity(Counts)", transform=ax.transAxes, rotation=90,
            ha="center", va="center", fontsize=17.5)
    ax.text(0.48, xlab_y, "2-Theta(°)", transform=ax.transAxes, ha="center", va="center", fontsize=17.5)
    return ax


def clay_panel(rect, heated, glycol, air, ylim, texts, title_pos, ylab_y, xlab_y):
    ax = fig.add_axes(rect)
    ax.plot(heated[:, 0], heated[:, 1], color=colors["h"], lw=1.0)
    ax.plot(glycol[:, 0], glycol[:, 1], color=colors["g"], lw=1.0)
    ax.plot(air[:, 0], air[:, 1], color=colors["a"], lw=1.0)
    ax.set_xlim(2.5, 30.5)
    ax.set_ylim(*ylim)
    ax.xaxis.set_major_locator(MultipleLocator(5))
    ax.xaxis.set_minor_locator(MultipleLocator(1))
    ax.yaxis.set_major_locator(MultipleLocator(1000))
    style_axes(ax)
    ax.text(title_pos[0], title_pos[1], "Clay minerals", fontsize=17.5, ha="left", va="center")
    for txt, x, y, key, ha in texts:
        fs = 15.5 if ha == "left" else 15
        ax.text(x, y, txt, color=colors[key], fontsize=fs, ha=ha, va="center")
    ax.text(-0.142, ylab_y, "Intensity(Counts)", transform=ax.transAxes, rotation=90,
            ha="center", va="center", fontsize=17.5)
    ax.text(0.457, xlab_y, "2-Theta(°)", transform=ax.transAxes, ha="center", va="center", fontsize=17.5)
    return ax


bulk_panel([0.06965, 0.71272, 0.4344, 0.27825], nmc1, 580, "(a) NMC-1", (0.022, 0.939),
           nmc1_legend, (0.073, 0.821), nmc1_peaks, 0.471, -0.099)
bulk_panel([0.06965, 0.38052, 0.4344, 0.27654], nmc2, 724, "(b)  NMC-2", (0.025, 0.938),
           nmc2_legend, (0.078, 0.82), nmc2_peaks, 0.507, -0.103)
bulk_panel([0.06965, 0.04418, 0.4344, 0.27703], lnt1, 702, "(c) LNT-1", (0.025, 0.936),
           lnt1_legend, (0.078, 0.802), lnt1_peaks, 0.50, -0.0996)

clay_panel([0.5923, 0.7198, 0.3943, 0.25653], nmc1_heated, nmc1_glycol, nmc1_air, (-15, 6200),
           nmc1_clay_text, clay_title_pos[0], 0.474, -0.11)
clay_panel([0.5923, 0.38711, 0.3943, 0.25653], nmc2_heated, nmc2_glycol, nmc2_air, (-11, 6970),
           nmc2_clay_text, clay_title_pos[1], 0.519, -0.109)
clay_panel([0.5923, 0.05052, 0.3943, 0.25604], lnt1_heated, lnt1_glycol, lnt1_air, (-11, 6495),
           lnt1_clay_text, clay_title_pos[2], 0.466, -0.107)

fig.savefig("out.png", dpi=300)
